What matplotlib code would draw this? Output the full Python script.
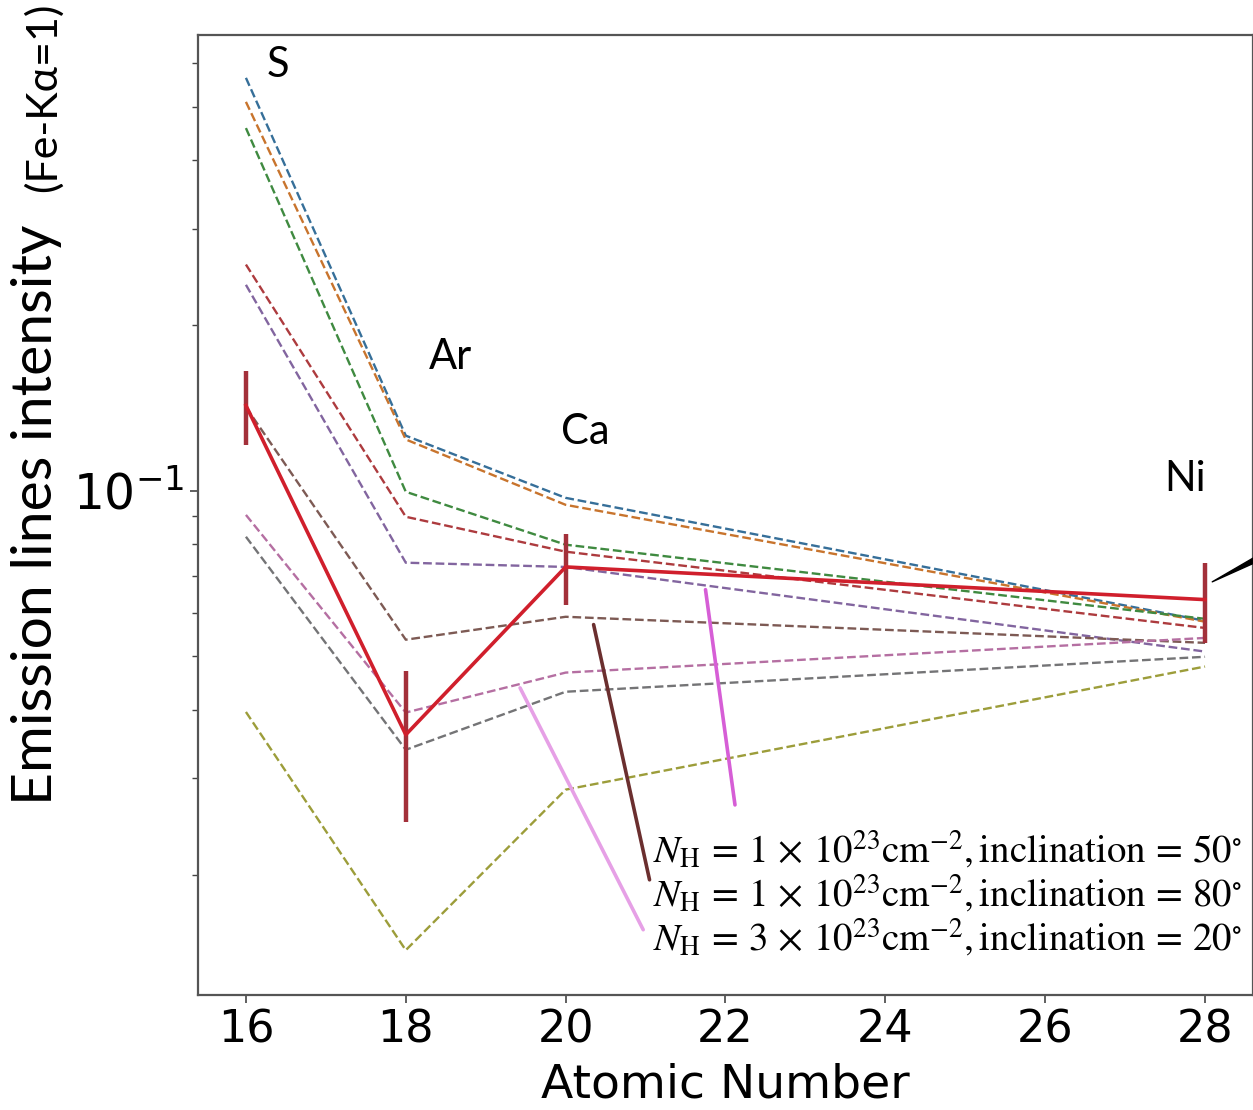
import matplotlib
matplotlib.use("Agg")
import matplotlib.pyplot as plt
import matplotlib.colors as mcolors
import numpy as np

plt.rcParams['mathtext.fontset'] = 'stix'

# Atomic numbers of S, Ar, Ca, Ni
atomic_number = [16, 18, 20, 28]
element_names = ['S', 'Ar', 'Ca', 'Ni']

# model curves (line intensity relative to Fe-Ka)
model_c0 = [0.564, 0.126, 0.0971, 0.0580]
model_c1 = [0.510, 0.124, 0.0943, 0.0578]
model_c2 = [0.457, 0.0996, 0.0798, 0.0585]
model_c3 = [0.258, 0.0897, 0.0775, 0.0563]
model_c4 = [0.237, 0.0740, 0.0727, 0.0510]
model_c5 = [0.142, 0.0536, 0.0590, 0.0529]
model_c6 = [0.0904, 0.0395, 0.0467, 0.0540]
model_c7 = [0.0825, 0.0338, 0.0431, 0.0499]
model_c8 = [0.0396, 0.0146, 0.0286, 0.0479]
model_colors = ['tab:blue', 'tab:orange', 'tab:green', 'tab:red', 'tab:purple',
                'tab:brown', 'tab:pink', 'tab:gray', 'tab:olive']

# observed values with errors
obs_intensity = [0.143, 0.0360, 0.0727, 0.0634]
obs_err = [0.022, 0.011, 0.0106, 0.0105]

legend_texts = [
    r'$N_{\rm H} \,=\, 1 \,\times\, 10^{23}{\rm cm}^{-2}, {\rm inclination} \,=\, 50^{\circ}$',
    r'$N_{\rm H} \,=\, 1 \,\times\, 10^{23}{\rm cm}^{-2}, {\rm inclination} \,=\, 80^{\circ}$',
    r'$N_{\rm H} \,=\, 3 \,\times\, 10^{23}{\rm cm}^{-2}, {\rm inclination} \,=\, 20^{\circ}$',
]


def dull(c, k=0.35):
    # mix a colour with dark gray, the lines look washed out in the original
    r = np.array(mcolors.to_rgb(c))
    g = np.array([0.38, 0.38, 0.40])
    return tuple((1 - k) * r + k * g)


fig = plt.figure(figsize=(12.53, 11.10), dpi=100)
ax = fig.add_axes([0.158, 0.1036, 0.842, 0.8649])

models = [model_c0, model_c1, model_c2, model_c3, model_c4,
          model_c5, model_c6, model_c7, model_c8]
for vals, c in zip(models, model_colors):
    ax.plot(atomic_number, vals, color=dull(c), linestyle='--', linewidth=1.7, zorder=2)

ax.errorbar(atomic_number, obs_intensity, yerr=obs_err, color='#d01f2c',
            ecolor='#a3303a', elinewidth=3.2, linewidth=2.6, capsize=0, zorder=5)

ax.set_yscale('log')
ax.set_xlim(15.4, 28.6)
ax.set_ylim(0.0121, 0.675)
ax.set_xticks([16, 18, 20, 22, 24, 26, 28])
ax.tick_params(axis='x', labelsize=32, length=6, width=1.2, color='#444444')
ax.tick_params(axis='y', labelsize=35, length=6, width=1.2, color='#444444')
ax.tick_params(axis='y', which='minor', length=4, width=1.0, color='#444444')
for sp in ax.spines.values():
    sp.set_color('#555555')
    sp.set_linewidth(1.6)

ax.set_xlabel('Atomic Number', fontsize=34, labelpad=8)

# y label drawn as figure text
fig.text(0.029, 0.536, 'Emission lines intensity', rotation=90, ha='center', va='center',
         fontsize=41, family='Lato')
fig.text(0.0345, 0.912, '(Fe-K\u03b1=1)', rotation=90, ha='center', va='center',
         fontsize=31, family='Lato')

# element labels
label_pos = [(0.0758, 0.969), (0.239, 0.665), (0.367, 0.586), (0.936, 0.538)]
for name, (lx, ly) in zip(element_names, label_pos):
    ax.text(lx, ly, name, transform=ax.transAxes, ha='center', va='center',
            fontsize=30, family='Lato')

# callout lines to three model curves
callouts = [
    ((20.35, 0.0571), (0.428, 0.120), '#6b2f2f'),
    ((21.75, 0.0661), (0.509, 0.198), '#d65ed6'),
    ((19.43, 0.0438), (0.422, 0.068), '#e6a0e6'),
]
for xy, xytext, c in callouts:
    ax.annotate('', xy=xy, xycoords='data', xytext=xytext, textcoords='axes fraction',
                arrowprops=dict(arrowstyle='-', color=c, lw=2.6, shrinkA=0, shrinkB=0),
                zorder=6)

for i, t in enumerate(legend_texts):
    ax.text(0.431, 0.151 - i * 0.0455, t, transform=ax.transAxes, ha='left', va='center',
            fontsize=28, clip_on=False)

# arrow coming in from the right edge
ax.annotate('', xy=(28.09, 0.0683), xycoords='data', xytext=(28.75, 0.0765),
            arrowprops=dict(arrowstyle='wedge,tail_width=0.45', color='black', lw=1.0,
                            shrinkA=0, shrinkB=0),
            annotation_clip=False)

fig.savefig('out.png', dpi=100)
